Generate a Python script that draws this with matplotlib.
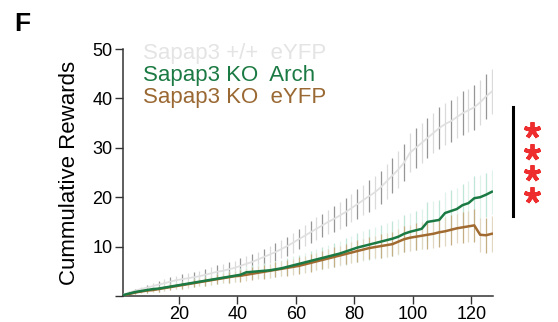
import numpy as np
import matplotlib
matplotlib.use('Agg')
import matplotlib.pyplot as plt

plt.rcParams['font.family'] = ['Liberation Sans', 'DejaVu Sans']

## Daten (Mittelwert +- SEM je Trial)
trials = np.arange(1, 128, 2)

wt_eyfp = [0.3, 0.7, 1.1, 1.4, 1.7, 2.0, 2.3, 2.6, 2.9, 3.2, 3.4, 3.6, 3.8, 4.0, 4.3, 4.6,
           4.9, 5.1, 5.4, 5.7, 6.1, 6.5, 6.9, 7.4, 7.9, 8.4, 8.9, 9.5, 10.1, 10.8, 11.5, 12.2,
           12.9, 13.6, 14.3, 15.0, 15.6, 16.3, 17.0, 17.8, 18.6, 19.4, 20.2, 21.0, 22.0, 23.2, 24.4, 25.6,
           27.0, 29.0, 30.0, 31.0, 32.0, 33.0, 34.0, 34.8, 35.4, 36.2, 37.0, 37.6, 38.2, 39.2, 40.4, 41.4]
wt_eyfp_sem = [0.2, 0.3, 0.4, 0.5, 0.6, 0.7, 0.7, 0.8, 0.9, 0.9, 1.0, 1.0, 1.1, 1.1, 1.2, 1.2,
               1.3, 1.3, 1.4, 1.4, 1.5, 1.5, 1.6, 1.6, 1.7, 1.7, 1.8, 1.8, 1.9, 2.0, 2.0, 2.1,
               2.2, 2.3, 2.4, 2.5, 2.6, 2.7, 2.8, 2.9, 3.0, 3.1, 3.2, 3.3, 3.4, 3.5, 3.6, 3.7,
               3.8, 3.9, 4.0, 4.0, 4.1, 4.1, 4.2, 4.2, 4.3, 4.3, 4.4, 4.4, 4.5, 4.5, 4.6, 4.6]

ko_arch = [0.2, 0.5, 0.8, 1.0, 1.2, 1.4, 1.5, 1.7, 1.9, 2.1, 2.3, 2.5, 2.7, 2.9, 3.1, 3.3,
           3.5, 3.7, 3.9, 4.1, 4.3, 4.8, 4.9, 5.0, 5.1, 5.2, 5.4, 5.6, 5.9, 6.2, 6.5, 6.8,
           7.1, 7.4, 7.7, 8.0, 8.3, 8.6, 9.0, 9.4, 9.8, 10.1, 10.4, 10.7, 11.0, 11.3, 11.6, 12.0,
           12.6, 13.0, 13.3, 13.6, 15.0, 15.2, 15.4, 16.8, 17.2, 17.6, 18.4, 18.8, 19.8, 20.0, 20.5, 21.1]
ko_arch_sem = [0.2, 0.3, 0.4, 0.4, 0.5, 0.5, 0.6, 0.6, 0.7, 0.7, 0.8, 0.8, 0.9, 0.9, 1.0, 1.0,
               1.1, 1.1, 1.2, 1.2, 1.3, 1.3, 1.4, 1.4, 1.5, 1.5, 1.6, 1.6, 1.7, 1.8, 1.9, 2.0,
               2.1, 2.2, 2.3, 2.4, 2.5, 2.6, 2.7, 2.8, 2.9, 3.0, 3.1, 3.2, 3.3, 3.4, 3.5, 3.6,
               3.7, 3.8, 3.9, 4.0, 4.0, 4.1, 4.1, 4.2, 4.2, 4.3, 4.3, 4.4, 4.4, 4.5, 4.5, 4.5]

ko_eyfp = [0.1, 0.4, 0.7, 0.9, 1.1, 1.2, 1.4, 1.6, 1.8, 2.0, 2.2, 2.4, 2.6, 2.8, 3.0, 3.2,
           3.4, 3.6, 3.8, 4.0, 4.1, 4.3, 4.5, 4.7, 4.9, 5.1, 5.3, 5.5, 5.7, 5.9, 6.1, 6.4,
           6.7, 7.0, 7.3, 7.6, 7.9, 8.2, 8.5, 8.8, 9.1, 9.4, 9.7, 9.9, 10.1, 10.3, 10.5, 11.0,
           11.5, 11.8, 12.0, 12.2, 12.4, 12.6, 12.9, 13.1, 13.4, 13.7, 13.9, 14.1, 14.3, 12.4, 12.3, 12.6]
ko_eyfp_sem = [0.1, 0.2, 0.3, 0.3, 0.4, 0.4, 0.5, 0.5, 0.6, 0.6, 0.7, 0.7, 0.8, 0.8, 0.9, 0.9,
               1.0, 1.0, 1.1, 1.1, 1.2, 1.2, 1.3, 1.3, 1.4, 1.4, 1.5, 1.5, 1.6, 1.6, 1.7, 1.7,
               1.8, 1.8, 1.9, 1.9, 2.0, 2.0, 2.1, 2.1, 2.2, 2.2, 2.3, 2.3, 2.4, 2.4, 2.5, 2.5,
               2.6, 2.6, 2.7, 2.7, 2.8, 2.8, 2.9, 2.9, 3.0, 3.0, 3.1, 3.2, 3.3, 3.4, 3.5, 3.6]

## Plotten
fig = plt.figure(figsize=(5.58, 3.22), dpi=100)
ax = fig.add_axes([0.2204, 0.0807, 0.6631, 0.7671])


def errbars(y, sem, c_dark, c_light):
    y = np.asarray(y)
    sem = np.asarray(sem)
    ax.vlines(trials[::2], (y - sem)[::2], (y + sem)[::2], colors=c_dark, lw=0.9, zorder=2)
    ax.vlines(trials[1::2], (y - sem)[1::2], (y + sem)[1::2], colors=c_light, lw=0.9, zorder=2)


errbars(wt_eyfp, wt_eyfp_sem, '#969696', '#dadada')
errbars(ko_arch, ko_arch_sem, '#bfe6d6', '#dff3ea')
errbars(ko_eyfp, ko_eyfp_sem, '#c4ae84', '#e2d7c0')

ax.plot(trials, wt_eyfp, c='#e0e0e0', lw=1.3, zorder=3)
ax.plot(trials, ko_arch, c='#1b7a43', lw=1.8, zorder=4)
ax.plot(trials, ko_eyfp, c='#a06a30', lw=1.8, zorder=3.5)

ax.set_xlim(0.85, 127.4)
ax.set_ylim(0, 50)
ax.set_xticks([20, 40, 60, 80, 100, 120])
ax.set_yticks([0, 10, 20, 30, 40, 50])
ax.set_yticklabels(['', '10', '20', '30', '40', '50'])
ax.tick_params(labelsize=13, length=5.5, width=1, color='#333333', pad=2)
for s in ['top', 'right']:
    ax.spines[s].set_visible(False)
for s in ['left', 'bottom']:
    ax.spines[s].set_linewidth(1.1)
    ax.spines[s].set_color('#333333')

ax.set_ylabel('Cummulative Rewards', fontsize=16, labelpad=9)

# Legende als farbiger Text
fig.text(143 / 558, 1 - 53 / 322, 'Sapap3 +/+  eYFP', color='#e4e4e4', fontsize=16, va='center')
fig.text(143 / 558, 1 - 75 / 322, 'Sapap3 KO  Arch', color='#1b7a43', fontsize=16, va='center')
fig.text(143 / 558, 1 - 98 / 322, 'Sapap3 KO  eYFP', color='#9a6832', fontsize=16, va='center')

# Signifikanz
ax.plot([134.2, 134.2], [16.2, 38.3], c='black', lw=2.2, clip_on=False)
ax.plot([140.7] * 4, [33.6, 29.2, 24.8, 20.5], ls='none', marker=(5, 2, 0),
        ms=12, mew=2.8, c='#ee2e2e', clip_on=False)

fig.text(14 / 558, 1 - 24 / 322, 'F', fontsize=19, fontweight='bold', va='center')

## Output
fig.savefig('out.png', dpi=100)
